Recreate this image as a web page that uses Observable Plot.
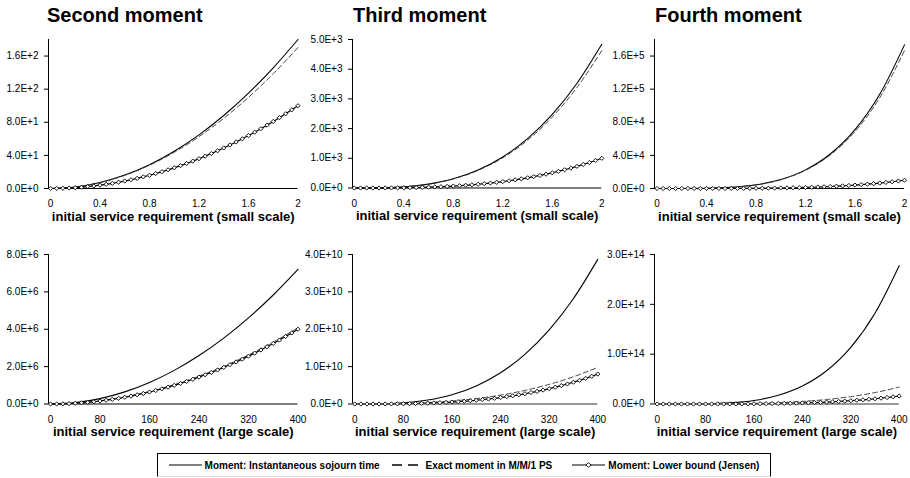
<!DOCTYPE html>
<html><head><meta charset="utf-8">
<script src="https://cdn.jsdelivr.net/npm/d3@7"></script>
<script src="https://cdn.jsdelivr.net/npm/@observablehq/plot@0.6"></script>
<style>
body{margin:0;background:#fff;}
#root{position:relative;width:910px;height:478px;overflow:hidden;font-family:"Liberation Sans",Arial,sans-serif;color:#000;}
.title{position:absolute;font-weight:bold;font-size:20px;line-height:20px;white-space:nowrap;}
.panel{position:absolute;}
#legend{position:absolute;left:157px;top:453px;width:614px;height:24px;border:1px solid #000;border-bottom-color:#ddd;box-sizing:border-box;display:flex;align-items:center;justify-content:center;font-size:10px;font-weight:bold;white-space:nowrap;}
#legend svg{display:block;}
</style>
</head><body>
<div id="root"></div>
<script>
// ---------- data ----------
const titles = ["Second moment", "Third moment", "Fourth moment"];
const xAxisLabels = ["initial service requirement (small scale)", "initial service requirement (large scale)"];
const legendLabels = ["Moment: Instantaneous sojourn time", "Exact moment in M/M/1 PS", "Moment: Lower bound (Jensen)"];

const xTicksSmall = [0, 0.4, 0.8, 1.2, 1.6, 2];
const xTicksLarge = [0, 80, 160, 240, 320, 400];
const yTicks2S = [0, 40, 80, 120, 160];
const yTicks3S = [0, 1000, 2000, 3000, 4000, 5000];
const yTicks4S = [0, 40000, 80000, 120000, 160000];
const yTicks2L = [0, 2e6, 4e6, 6e6, 8e6];
const yTicks3L = [0, 1e10, 2e10, 3e10, 4e10];
const yTicks4L = [0, 1e14, 2e14, 3e14];

// x positions of the smooth curves
const xSmall = [0, 0.2, 0.4, 0.6, 0.8, 1.0, 1.2, 1.4, 1.6, 1.8, 2.0];
const xLarge = [0, 40, 80, 120, 160, 200, 240, 280, 320, 360, 400];
// x positions of the marker series
const xSmallDense = [0,0.05,0.1,0.15,0.2,0.25,0.3,0.35,0.4,0.45,0.5,0.55,0.6,0.65,0.7,0.75,0.8,0.85,0.9,0.95,1,1.05,1.1,1.15,1.2,1.25,1.3,1.35,1.4,1.45,1.5,1.55,1.6,1.65,1.7,1.75,1.8,1.85,1.9,1.95,2];
const xLargeDense = [0,10,20,30,40,50,60,70,80,90,100,110,120,130,140,150,160,170,180,190,200,210,220,230,240,250,260,270,280,290,300,310,320,330,340,350,360,370,380,390,400];

// Second moment, small scale
const inst2S = [0, 1.8, 7.2, 16.2, 28.8, 45, 64.8, 88.2, 115.2, 145.8, 180];
const exact2S = [0, 1.79, 7.12, 15.92, 28.14, 43.73, 62.63, 84.78, 110.15, 138.68, 170.3];
const jensen2S = [0,0.06,0.25,0.56,1,1.56,2.25,3.06,4,5.06,6.25,7.56,9,10.56,12.25,14.06,16,18.06,20.25,22.56,25,27.56,30.25,33.06,36,39.06,42.25,45.56,49,52.56,56.25,60.06,64,68.06,72.25,76.56,81,85.56,90.25,95.06,100];
// Third moment, small scale
const inst3S = [0, 4.84, 38.7, 130.7, 309.8, 605, 1045, 1660, 2478, 3528, 4840];
const exact3S = [0, 4.82, 38.4, 129.0, 304.3, 591.7, 1017, 1609, 2391, 3388, 4627];
const jensen3S = [0,0.016,0.125,0.42,1,1.95,3.38,5.36,8,11.39,15.63,20.8,27,34.33,42.88,52.73,64,76.77,91.13,107.2,125,144.7,166.4,190.1,216,244.1,274.6,307.5,343,381.1,421.9,465.5,512,561.5,614.1,669.9,729,791.5,857.4,926.9,1000];
// Fourth moment, small scale
const inst4S = [0, 17.4, 277.6, 1405, 4442, 10845, 22488, 41662, 71074, 113847, 173520];
const exact4S = [0, 17.3, 275.4, 1389, 4371, 10628, 21948, 40495, 68800, 109749, 166579];
const jensen4S = [0,0.004,0.06,0.32,1,2.44,5.06,9.38,16,25.63,39.06,57.19,81,111.6,150.1,197.8,256,326.3,410.1,509.1,625,759.8,915.1,1093,1296,1526,1785,2076,2401,2763,3164,3607,4096,4632,5220,5862,6561,7321,8145,9037,10000];
// Second moment, large scale
const inst2L = [0, 7.2e4, 2.88e5, 6.48e5, 1.152e6, 1.8e6, 2.592e6, 3.528e6, 4.608e6, 5.832e6, 7.2e6];
const exact2L = [0, 4.7e4, 1.75e5, 3.83e5, 6.71e5, 1.039e6, 1.487e6, 2.015e6, 2.623e6, 3.311e6, 4.079e6];
const jensen2L = [0,2.5e3,1e4,2.25e4,4e4,6.25e4,9e4,1.225e5,1.6e5,2.025e5,2.5e5,3.025e5,3.6e5,4.225e5,4.9e5,5.625e5,6.4e5,7.225e5,8.1e5,9.025e5,1e6,1.1025e6,1.21e6,1.3225e6,1.44e6,1.5625e6,1.69e6,1.8225e6,1.96e6,2.1025e6,2.25e6,2.4025e6,2.56e6,2.7225e6,2.89e6,3.0625e6,3.24e6,3.4225e6,3.61e6,3.8025e6,4e6];
// Third moment, large scale
const inst3L = [0, 3.87e7, 3.10e8, 1.045e9, 2.478e9, 4.84e9, 8.36e9, 1.328e10, 1.982e10, 2.823e10, 3.87e10];
const exact3L = [0, 2.6e7, 1.36e8, 3.78e8, 8.0e8, 1.45e9, 2.38e9, 3.63e9, 5.25e9, 7.29e9, 9.8e9];
const jensen3L = [0,1.25e5,1e6,3.375e6,8e6,1.5625e7,2.7e7,4.2875e7,6.4e7,9.1125e7,1.25e8,1.664e8,2.16e8,2.746e8,3.43e8,4.219e8,5.12e8,6.141e8,7.29e8,8.574e8,1e9,1.158e9,1.331e9,1.521e9,1.728e9,1.953e9,2.197e9,2.46e9,2.744e9,3.049e9,3.375e9,3.724e9,4.096e9,4.492e9,4.913e9,5.359e9,5.832e9,6.332e9,6.859e9,7.415e9,8e9];
// Fourth moment, large scale
const inst4L = [0, 2.78e10, 4.44e11, 2.25e12, 7.11e12, 1.735e13, 3.6e13, 6.67e13, 1.137e14, 1.822e14, 2.776e14];
const exact4L = [0, 7.3e9, 8.97e10, 3.95e11, 1.135e12, 2.58e12, 5.07e12, 8.98e12, 1.476e13, 2.29e13, 3.39e13];
const jensen4L = [0,6.25e6,1e8,5.06e8,1.6e9,3.91e9,8.1e9,1.5e10,2.56e10,4.1e10,6.25e10,9.15e10,1.296e11,1.785e11,2.401e11,3.164e11,4.096e11,5.22e11,6.561e11,8.145e11,1e12,1.2155e12,1.4641e12,1.749e12,2.0736e12,2.4414e12,2.8561e12,3.3215e12,3.8416e12,4.4205e12,5.0625e12,5.772e12,6.5536e12,7.412e12,8.352e12,9.379e12,1.0498e13,1.1713e13,1.3032e13,1.4459e13,1.6e13];

// ---------- layout ----------
const root = document.getElementById("root");
const FONT = "Liberation Sans, Arial, sans-serif";

function fmtE(d) {
  if (d === 0) return "0.0E+0";
  const e = Math.floor(Math.log10(d) + 1e-9);
  const m = d / Math.pow(10, e);
  return m.toFixed(1) + "E+" + e;
}
function fmtX(d) { return String(+d.toFixed(1)); }

function panel(cfg) {
  const ML = 47, MR = 12, MT = 4, MB = 44;
  const W = ML + (cfg.x1 - cfg.ax) + MR;
  const H = MT + (cfg.y0 - cfg.yTop) + MB;
  const curve = cfg.xs.map((x, i) => ({x, inst: cfg.inst[i], exact: cfg.exact[i]}));
  const dense = cfg.xd.map((x, i) => ({x, y: cfg.jensen[i]}));
  const inset = cfg.x0 - cfg.ax;
  const svg = Plot.plot({
    width: W, height: H,
    marginLeft: ML, marginRight: MR, marginTop: MT, marginBottom: MB,
    style: {fontFamily: FONT, background: "transparent", overflow: "visible", color: "#000"},
    x: {domain: [0, cfg.xmax], range: [ML + inset, ML + (cfg.x1 - cfg.ax)]},
    y: {domain: [0, cfg.ymax], range: [MT + (cfg.y0 - cfg.yTop), MT]},
    marks: [
      Plot.axisY({ticks: cfg.yTicks, tickFormat: fmtE, tickSize: 4, tickPadding: 6, fontSize: 10, label: null}),
      Plot.axisX({ticks: cfg.xTicks, tickFormat: fmtX, tickSize: 0, tickPadding: cfg.xPad, fontSize: 10, label: null}),
      Plot.ruleX([0], {y1: 0, y2: cfg.ymax, dx: -inset, stroke: "#000", strokeWidth: 1}),
      Plot.line(curve, {x: "x", y: "inst", curve: "monotone-x", stroke: "#000", strokeWidth: 1.1}),
      Plot.line(curve, {x: "x", y: "exact", curve: "monotone-x", stroke: "#333", strokeWidth: 0.9, strokeDasharray: "5,3"}),
      Plot.line(dense, {x: "x", y: "y", stroke: "#000", strokeWidth: 1.2}),
      Plot.ruleY([0], {stroke: cfg.baseColor, strokeWidth: cfg.baseWidth}),
      Plot.dot(dense, {x: "x", y: "y", symbol: "diamond2", r: 1.9, fill: "#fff", stroke: "#000", strokeWidth: 0.9}),
      Plot.text([cfg.xLabel], {text: d => d, frameAnchor: "bottom", dy: cfg.labelDy, fontSize: 13, fontWeight: "bold", fill: "#000"})
    ]
  });
  svg.classList.add("panel");
  svg.style.left = (cfg.ax - ML) + "px";
  svg.style.top = (cfg.yTop - MT) + "px";
  root.appendChild(svg);
}

const panels = [
  {ax: 47.5, x0: 49.5, x1: 297, yTop: 39, y0: 188, xmax: 2, ymax: 180, yTicks: yTicks2S, xTicks: xTicksSmall, xs: xSmall, xd: xSmallDense, inst: inst2S, exact: exact2S, jensen: jensen2S, xLabel: xAxisLabels[0], xPad: 11, labelDy: 32, baseColor: "#000", baseWidth: 1},
  {ax: 351.7, x0: 353.5, x1: 601, yTop: 39, y0: 187.5, xmax: 2, ymax: 5000, yTicks: yTicks3S, xTicks: xTicksSmall, xs: xSmall, xd: xSmallDense, inst: inst3S, exact: exact3S, jensen: jensen3S, xLabel: xAxisLabels[0], xPad: 11.5, labelDy: 32.5, baseColor: "#000", baseWidth: 1},
  {ax: 654, x0: 656.5, x1: 904, yTop: 39, y0: 188, xmax: 2, ymax: 180000, yTicks: yTicks4S, xTicks: xTicksSmall, xs: xSmall, xd: xSmallDense, inst: inst4S, exact: exact4S, jensen: jensen4S, xLabel: xAxisLabels[0], xPad: 11, labelDy: 32, baseColor: "#000", baseWidth: 1},
  {ax: 47.5, x0: 49.5, x1: 297, yTop: 253.5, y0: 403, xmax: 400, ymax: 8e6, yTicks: yTicks2L, xTicks: xTicksLarge, xs: xLarge, xd: xLargeDense, inst: inst2L, exact: exact2L, jensen: jensen2L, xLabel: xAxisLabels[1], xPad: 11.5, labelDy: 32, baseColor: "#000", baseWidth: 1},
  {ax: 351.7, x0: 354, x1: 597, yTop: 253.5, y0: 403, xmax: 400, ymax: 4e10, yTicks: yTicks3L, xTicks: xTicksLarge, xs: xLarge, xd: xLargeDense, inst: inst3L, exact: exact3L, jensen: jensen3L, xLabel: xAxisLabels[1], xPad: 11.5, labelDy: 32, baseColor: "#777", baseWidth: 1.6},
  {ax: 654.3, x0: 657, x1: 899, yTop: 253.5, y0: 403, xmax: 400, ymax: 3e14, yTicks: yTicks4L, xTicks: xTicksLarge, xs: xLarge, xd: xLargeDense, inst: inst4L, exact: exact4L, jensen: jensen4L, xLabel: xAxisLabels[1], xPad: 11.5, labelDy: 32, baseColor: "#777", baseWidth: 1.6}
];
panels.forEach(panel);

// titles
const titleLefts = [47, 353, 655];
titles.forEach((t, i) => {
  const d = document.createElement("div");
  d.className = "title";
  d.textContent = t;
  d.style.left = titleLefts[i] + "px";
  d.style.top = "5px";
  root.appendChild(d);
});

// legend
const legend = document.createElement("div");
legend.id = "legend";
const ns = "http://www.w3.org/2000/svg";
function sample(kind) {
  const s = document.createElementNS(ns, "svg");
  const w = kind === "dash" ? 26 : 33;
  s.setAttribute("width", w); s.setAttribute("height", 10);
  const l = document.createElementNS(ns, "line");
  l.setAttribute("x1", 0); l.setAttribute("x2", w); l.setAttribute("y1", 5); l.setAttribute("y2", 5);
  l.setAttribute("stroke", "#000"); l.setAttribute("stroke-width", kind === "dash" ? 1.3 : 1.1);
  if (kind === "dash") l.setAttribute("stroke-dasharray", "10,6");
  s.appendChild(l);
  if (kind === "diamond") {
    const p = document.createElementNS(ns, "polygon");
    const c = w / 2;
    p.setAttribute("points", `${c},2.6 ${c + 2.6},5 ${c},7.4 ${c - 2.6},5`);
    p.setAttribute("fill", "#fff"); p.setAttribute("stroke", "#000"); p.setAttribute("stroke-width", 0.9);
    s.appendChild(p);
  }
  return s;
}
function label(t, ml, mr) {
  const sp = document.createElement("span");
  sp.textContent = t; sp.style.marginLeft = ml + "px"; sp.style.marginRight = mr + "px";
  return sp;
}
legend.appendChild(sample("solid"));
legend.appendChild(label(legendLabels[0], 3, 12));
legend.appendChild(sample("dash"));
legend.appendChild(label(legendLabels[1], 8, 20));
legend.appendChild(sample("diamond"));
legend.appendChild(label(legendLabels[2], 3, 0));
root.appendChild(legend);
</script>
</body></html>
